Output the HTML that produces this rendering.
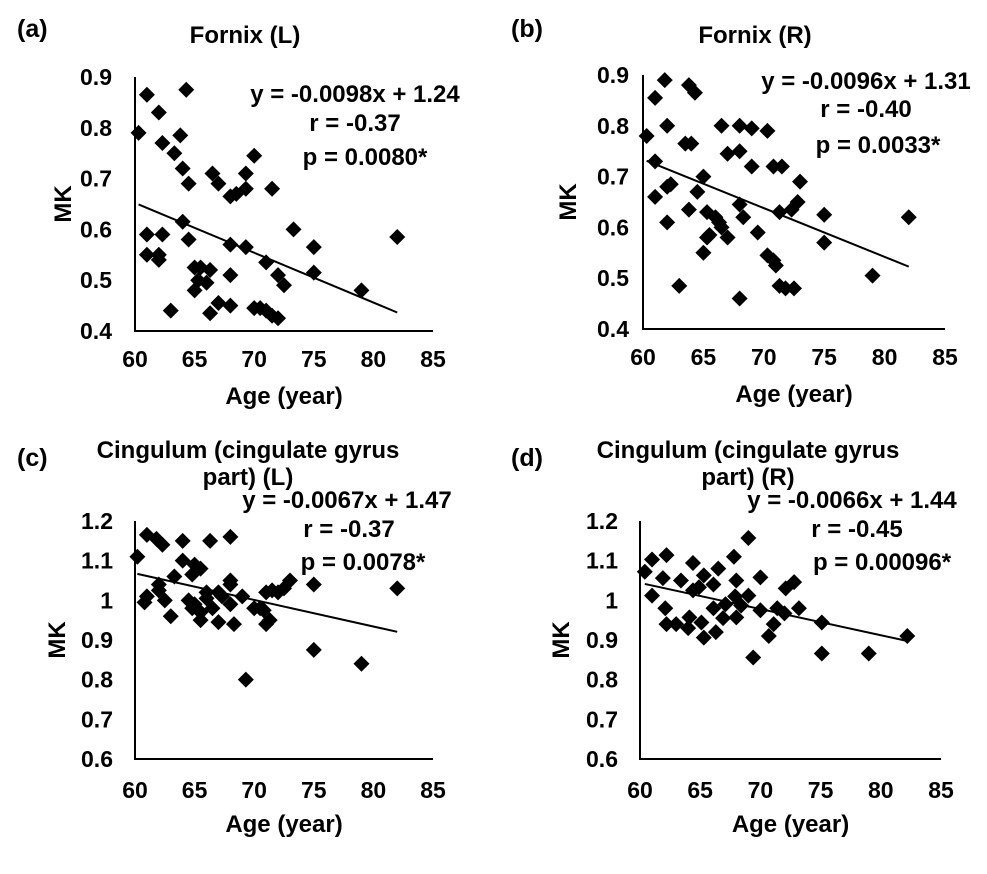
<!DOCTYPE html>
<html><head><meta charset="utf-8"><style>
body{margin:0;background:#fff}
svg text{font-family:"Liberation Sans",Arial,sans-serif;font-weight:bold;fill:#000}
</style></head><body>
<svg id="c" width="987" height="869" viewBox="0 0 987 869"></svg>
<script>
const ageA=[61,64.3,62,60.3,63.8,62.3,63.3,64,64.5,66.5,67,69.3,70,68,68.5,69.3,71.5,64,61,62.3,64.5,61,62,62,68,69.3,73.3,75,71,72,72.5,75,79,82,65,65.5,66.3,65.3,66,65,68,63,66.3,67,68,70,70.5,71,71.5,72];
const mkA=[0.865,0.875,0.83,0.79,0.785,0.77,0.75,0.72,0.69,0.71,0.69,0.71,0.745,0.665,0.67,0.68,0.68,0.615,0.59,0.59,0.58,0.55,0.55,0.54,0.57,0.565,0.6,0.565,0.535,0.51,0.49,0.515,0.48,0.585,0.525,0.525,0.52,0.5,0.495,0.48,0.51,0.44,0.435,0.455,0.45,0.445,0.445,0.44,0.43,0.425];
const ageB=[61,61.8,63.8,64.3,60.3,62,63.5,64,66.5,68,69,70.3,67,68,69,70.8,71.5,73,61,61,62,62.3,64.5,63.8,65,62,65.3,66,66.3,66.5,67,65.5,65.3,65,68,68.3,69.5,70.3,70.8,71,71.3,72.3,72.8,75,75,82,79,63,68,71.3,71.8,72.5];
const mkB=[0.855,0.89,0.88,0.865,0.78,0.8,0.765,0.765,0.8,0.8,0.795,0.79,0.745,0.75,0.72,0.72,0.72,0.69,0.73,0.66,0.68,0.685,0.67,0.635,0.7,0.61,0.63,0.62,0.61,0.6,0.58,0.585,0.58,0.55,0.645,0.62,0.59,0.545,0.535,0.525,0.63,0.635,0.65,0.625,0.57,0.62,0.505,0.485,0.46,0.485,0.48,0.48];
const ageC=[60.2,61,61.8,62.3,64,66.3,68,64,65,65.5,64.8,63.3,62,62,61,60.8,62.5,63,64.5,65,65.5,64.8,65.5,66.5,67,67.3,68,68,68,67,68.3,69,70,70.5,70.8,71,71.3,71,71.5,72,73,72.5,75,82,75,79,69.3,66,66];
const mkC=[1.11,1.165,1.155,1.14,1.15,1.15,1.16,1.1,1.09,1.08,1.065,1.06,1.04,1.025,1.01,0.995,1.0,0.96,1.0,0.99,0.97,0.98,0.95,0.98,1.02,1.01,1.04,1.05,0.99,0.945,0.94,1.01,0.98,0.98,0.975,0.94,0.95,1.02,1.025,1.02,1.05,1.03,1.04,1.03,0.875,0.84,0.8,1.02,1.005];
const ageD=[60.4,61,61,62.2,61.9,62.1,62.2,63,64,64.1,65.3,65.1,66.3,66.1,64.4,63.4,65.3,66.1,66.5,67.8,69,68,67.1,66.9,68,67.9,69,68.4,70,70,69.4,71.4,70.7,71.1,72,72.1,72.8,73.2,75.1,75.1,79,82.2,64.4,64.9];
const mkD=[1.072,1.103,1.012,1.114,1.056,0.98,0.94,0.94,0.93,0.957,0.906,0.944,0.92,0.98,1.094,1.05,1.063,1.04,1.08,1.11,1.157,1.05,0.99,0.955,0.957,1.01,1.012,0.987,1.058,0.975,0.856,0.98,0.91,0.94,0.967,1.03,1.046,0.98,0.944,0.866,0.866,0.91,1.025,1.033];
const xTicks=[60,65,70,75,80,85];
const yTicksAB=[0.4,0.5,0.6,0.7,0.8,0.9];
const yTicksCD=[0.6,0.7,0.8,0.9,1,1.1,1.2];
const fitA=[-0.0098,1.24],fitB=[-0.0096,1.31],fitC=[-0.0067,1.47],fitD=[-0.0066,1.44];

const svg=document.getElementById('c');const NS='http://www.w3.org/2000/svg';
function mk(tag,attrs,parent){const e=document.createElementNS(NS,tag);for(const k in attrs)e.setAttribute(k,attrs[k]);(parent||svg).appendChild(e);return e;}
function txt(s,x,y,size,anchor,parent,rot){const e=mk('text',{x:x,y:y,'font-size':size,'text-anchor':anchor||'middle'},parent);if(rot)e.setAttribute('transform','rotate(-90 '+x+' '+y+')');e.textContent=s;return e;}

function panel(p){
  const g=mk('g',{});
  
  
  const X=v=>p.x0+(v-60)/25*(p.x1-p.x0);
  const Y=v=>p.yb+(v-p.ymin)/(p.ymax-p.ymin)*(p.yt-p.yb);
  let t=txt('('+p.id+')',p.lx,p.ly,25,'start',g);
  
  p.title.forEach((s,i)=>{const e=txt(s,p.tx,p.ty+i*27,p.tfs,'middle',g);});
  const ax=mk('path',{d:'M'+X(60)+' '+Y(p.ymax)+' V'+p.yb+' H'+X(85),stroke:'#000','stroke-width':2,fill:'none'},g);
  
  p.yt_.forEach(v=>{const e=txt(String(v),X(60)-p.gap,Y(v)+8,23,'end',g);});
  xTicks.forEach(v=>{const e=txt(String(v),X(v),p.yb+p.xty,23,'middle',g);});
  let e=txt('Age (year)',(X(60)+X(85))/2,p.yb+73,24,'middle',g);
  e=txt('MK',p.mkx,(Y(p.ymax)+p.yb)/2,24,'middle',g,true);
  const xs=p.ax,ys=p.my;
  const xmin=Math.min(...xs),xmax=Math.max(...xs);
  const f=v=>p.fit[0]*v+p.fit[1];
  const ln=mk('line',{x1:X(xmin),y1:Y(f(xmin)),x2:X(xmax),y2:Y(f(xmax)),stroke:'#000','stroke-width':2},g);
  
  xs.forEach((v,i)=>{const cx=X(v),cy=Y(ys[i]);const d=mk('path',{d:'M'+cx+' '+(cy-8)+' L'+(cx+8)+' '+cy+' L'+cx+' '+(cy+8)+' L'+(cx-8)+' '+cy+'Z',fill:'#000'},g);
    });
  p.eq.forEach(q=>{const e=txt(q[0],q[1],q[2],24,'middle',g);});
}
panel({id:'a',x0:135,x1:433,yb:331,yt:77,ymin:0.4,ymax:0.9,yt_:yTicksAB,ax:ageA,my:mkA,fit:fitA,lx:17,ly:37,title:['Fornix (L)'],tx:245,ty:43,tfs:24,mkx:71,gap:23,xty:36,
  eq:[['y = -0.0098x + 1.24',355,102],['r = -0.37',355,131],['p = 0.0080*',365,165]]});
panel({id:'b',x0:643,x1:945,yb:329,yt:75,ymin:0.4,ymax:0.9,yt_:yTicksAB,ax:ageB,my:mkB,fit:fitB,lx:511,ly:37,title:['Fornix (R)'],tx:755,ty:43,tfs:24,mkx:576,gap:14,xty:36,
  eq:[['y = -0.0096x + 1.31',866,89],['r = -0.40',866,117],['p = 0.0033*',878,153]]});
panel({id:'c',x0:135,x1:433,yb:759,yt:521,ymin:0.6,ymax:1.2,yt_:yTicksCD,ax:ageC,my:mkC,fit:fitC,lx:17,ly:466,title:['Cingulum (cingulate gyrus','part) (L)'],tx:248,ty:458,tfs:24,mkx:65,gap:22,xty:39,
  eq:[['y = -0.0067x + 1.47',347,508],['r = -0.37',349,537],['p = 0.0078*',363,570]]});
panel({id:'d',x0:640,x1:941,yb:759,yt:521,ymin:0.6,ymax:1.2,yt_:yTicksCD,ax:ageD,my:mkD,fit:fitD,lx:511,ly:466,title:['Cingulum (cingulate gyrus','part) (R)'],tx:748,ty:458,tfs:24,mkx:569,gap:22,xty:39,
  eq:[['y = -0.0066x + 1.44',852,508],['r = -0.45',857,537],['p = 0.00096*',882,570]]});
</script>
</body></html>
